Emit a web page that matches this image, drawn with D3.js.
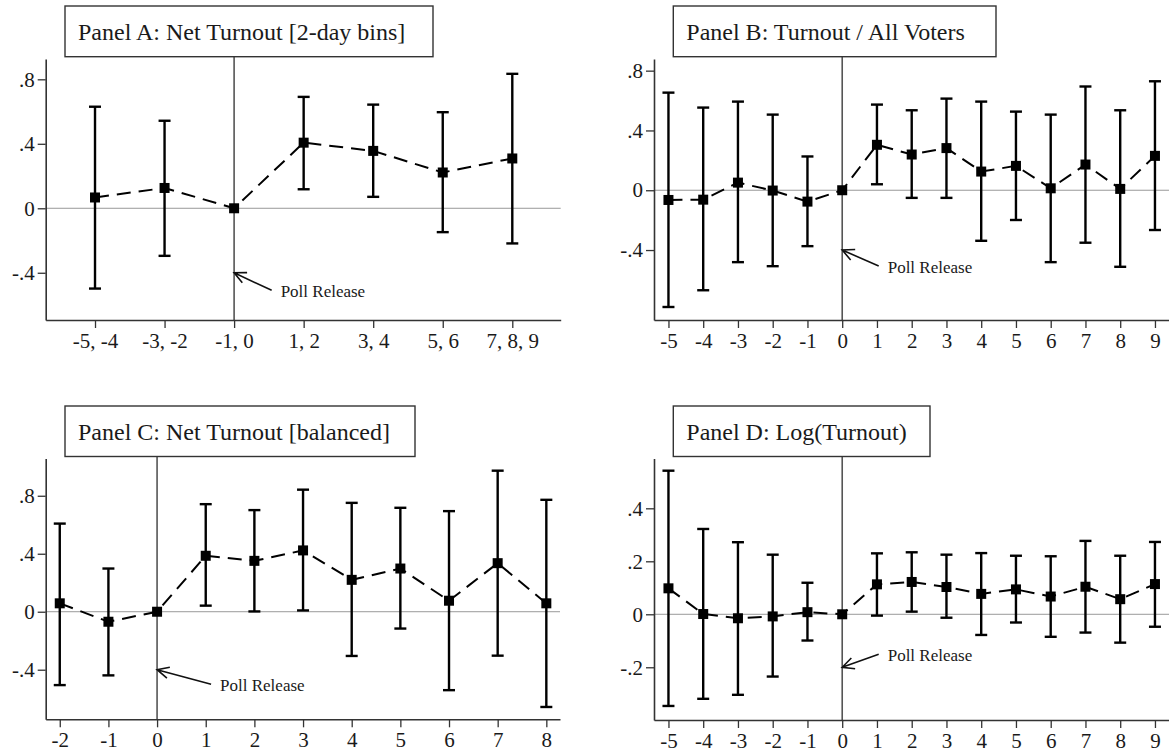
<!DOCTYPE html>
<html>
<head>
<meta charset="utf-8">
<script src="https://cdn.jsdelivr.net/npm/d3@7"></script>
<style>
  body { margin: 0; background: #fff; }
  svg { display: block; font-family: "Liberation Serif", "Times New Roman", serif; }
</style>
</head>
<body>
<div id="chart"></div>
<script>
// ---- data ----

// Panel A: 2-day bins, x is the bin index
const binsA = ["-5, -4", "-3, -2", "-1, 0", "1, 2", "3, 4", "5, 6", "7, 8, 9"];
const estA = [0.067, 0.126, 0, 0.407, 0.356, 0.222, 0.309];
const loA  = [-0.498, -0.295, null, 0.118, 0.071, -0.148, -0.218];
const hiA  = [0.630, 0.543, null, 0.691, 0.643, 0.596, 0.834];

// Panel B: turnout / all voters
const daysB = [-5, -4, -3, -2, -1, 0, 1, 2, 3, 4, 5, 6, 7, 8, 9];
const estB = [-0.065, -0.063, 0.051, -0.002, -0.076, 0, 0.304, 0.239, 0.282, 0.125, 0.163, 0.013, 0.172, 0.009, 0.230];
const loB  = [-0.781, -0.669, -0.481, -0.508, -0.374, null, 0.040, -0.051, -0.051, -0.338, -0.199, -0.481, -0.351, -0.512, -0.266];
const hiB  = [0.653, 0.553, 0.593, 0.506, 0.226, null, 0.573, 0.535, 0.613, 0.593, 0.526, 0.506, 0.694, 0.535, 0.729];

// Panel C: net turnout, balanced
const daysC = [-2, -1, 0, 1, 2, 3, 4, 5, 6, 7, 8];
const estC = [0.058, -0.069, 0, 0.386, 0.351, 0.423, 0.220, 0.298, 0.076, 0.335, 0.058];
const loC  = [-0.506, -0.439, null, 0.042, 0.002, 0.009, -0.305, -0.116, -0.541, -0.303, -0.657];
const hiC  = [0.608, 0.298, null, 0.742, 0.701, 0.842, 0.751, 0.717, 0.694, 0.973, 0.772];

// Panel D: log(turnout)
const daysD = [-5, -4, -3, -2, -1, 0, 1, 2, 3, 4, 5, 6, 7, 8, 9];
const estD = [0.098, 0.001, -0.015, -0.008, 0.008, 0, 0.113, 0.122, 0.103, 0.077, 0.094, 0.067, 0.104, 0.057, 0.114];
const loD  = [-0.346, -0.319, -0.304, -0.235, -0.099, null, -0.005, 0.010, -0.013, -0.078, -0.031, -0.085, -0.069, -0.107, -0.047];
const hiD  = [0.542, 0.322, 0.272, 0.225, 0.119, null, 0.230, 0.234, 0.225, 0.231, 0.221, 0.219, 0.277, 0.221, 0.273];

const yTicksWide = [-0.4, 0, 0.4, 0.8];
const yTicksLog = [-0.2, 0, 0.2, 0.4];

// ---- panel setup ----
const W = 1169, H = 756;

const panels = [
  {
    title: "Panel A: Net Turnout [2-day bins]",
    x: binsA.map((d, i) => i), est: estA, lo: loA, hi: hiA,
    xTicks: binsA.map((d, i) => i), xFmt: i => binsA[i],
    yTicks: yTicksWide, ref: 2,
    xr: [45.7, 560.7], xd: [-0.709, 6.696],
    yr: [320, 59], yd: [-0.693, 0.926],
    box: [65, 6, 433, 56.7],
    arrow: [2.54, -0.509]
  },
  {
    title: "Panel B: Turnout / All Voters",
    x: daysB, est: estB, lo: loB, hi: hiB,
    xTicks: daysB, xFmt: d => d,
    yTicks: yTicksWide, ref: 0,
    xr: [654, 1169], xd: [-5.416, 9.404],
    yr: [320, 59], yd: [-0.868, 0.878],
    box: [673.3, 6, 996, 56.7],
    arrow: [1.05, -0.507]
  },
  {
    title: "Panel C: Net Turnout [balanced]",
    x: daysC, est: estC, lo: loC, hi: hiC,
    xTicks: daysC, xFmt: d => d,
    yTicks: yTicksWide, ref: 0,
    xr: [45.7, 560], xd: [-2.289, 8.281],
    yr: [719.3, 458.5], yd: [-0.742, 1.057],
    box: [65, 406, 415, 456.5],
    arrow: [1.11, -0.50]
  },
  {
    title: "Panel D: Log(Turnout)",
    x: daysD, est: estD, lo: loD, hi: hiD,
    xTicks: daysD, xFmt: d => d,
    yTicks: yTicksLog, ref: 0,
    xr: [654, 1169], xd: [-5.416, 9.404],
    yr: [720, 458.5], yd: [-0.399, 0.588],
    box: [673.3, 406, 930, 456.5],
    arrow: [1.05, -0.151]
  }
];

// stata style: ".4", "-.4", "0"
function fmtY(v) {
  if (Math.abs(v) < 1e-9) return "0";
  let s = String(+Math.abs(v).toFixed(2)).replace(/^0/, "");
  return (v < 0 ? "-" : "") + s;
}

const svg = d3.select("#chart").append("svg")
  .attr("width", W).attr("height", H)
  .attr("viewBox", `0 0 ${W} ${H}`);

panels.forEach(p => drawPanel(p));

function drawPanel(p) {
  const g = svg.append("g");
  const x = d3.scaleLinear().domain(p.xd).range(p.xr);
  const y = d3.scaleLinear().domain(p.yd).range(p.yr);

  // zero line
  g.append("line")
    .attr("x1", p.xr[0]).attr("x2", p.xr[1])
    .attr("y1", y(0)).attr("y2", y(0))
    .attr("stroke", "#999").attr("stroke-width", 1);

  // poll release line
  g.append("line")
    .attr("x1", x(p.ref)).attr("x2", x(p.ref))
    .attr("y1", p.box[3]).attr("y2", p.yr[0])
    .attr("stroke", "#555").attr("stroke-width", 1.6);

  // axes
  const xAxis = d3.axisBottom(x).tickValues(p.xTicks).tickFormat(p.xFmt)
    .tickSize(8).tickSizeOuter(0).tickPadding(5);
  const gx = g.append("g").attr("transform", `translate(0,${p.yr[0]})`).call(xAxis);
  const yAxis = d3.axisLeft(y).tickValues(p.yTicks).tickFormat(fmtY)
    .tickSize(8).tickSizeOuter(0).tickPadding(3);
  const gy = g.append("g").attr("transform", `translate(${p.xr[0]},0)`).call(yAxis);
  [gx, gy].forEach(a => {
    a.select(".domain").attr("stroke", "#333").attr("stroke-width", 1.6);
    a.selectAll(".tick line").attr("stroke", "#333").attr("stroke-width", 1.3);
    a.selectAll(".tick text").attr("fill", "#1a1a1a")
      .style("font-family", "'Liberation Serif', 'Times New Roman', serif")
      .style("font-size", "21px");
  });

  const pts = p.x.map((xv, i) => ({ x: xv, est: p.est[i], lo: p.lo[i], hi: p.hi[i] }));

  // dashed connecting line
  g.append("path")
    .datum(pts)
    .attr("fill", "none")
    .attr("stroke", "#000").attr("stroke-width", 2)
    .attr("stroke-dasharray", "14,8")
    .attr("d", d3.line().x(d => x(d.x)).y(d => y(d.est)));

  // confidence intervals
  const ci = pts.filter(d => d.lo !== null);
  const cap = 6;
  const bars = g.append("g").attr("stroke", "#000").attr("stroke-width", 2.4);
  bars.selectAll("line.v").data(ci).join("line").attr("class", "v")
    .attr("x1", d => x(d.x)).attr("x2", d => x(d.x))
    .attr("y1", d => y(d.lo)).attr("y2", d => y(d.hi));
  bars.selectAll("line.t").data(ci).join("line").attr("class", "t")
    .attr("x1", d => x(d.x) - cap).attr("x2", d => x(d.x) + cap)
    .attr("y1", d => y(d.hi)).attr("y2", d => y(d.hi));
  bars.selectAll("line.b").data(ci).join("line").attr("class", "b")
    .attr("x1", d => x(d.x) - cap).attr("x2", d => x(d.x) + cap)
    .attr("y1", d => y(d.lo)).attr("y2", d => y(d.lo));

  // square markers
  const ms = 10;
  g.selectAll("rect.pt").data(pts).join("rect").attr("class", "pt")
    .attr("x", d => x(d.x) - ms / 2).attr("y", d => y(d.est) - ms / 2)
    .attr("width", ms).attr("height", ms).attr("fill", "#000");

  // poll release arrow
  const tipVal = p.yTicks[0];
  const tx = x(p.ref), ty = y(tipVal);
  const ex = x(p.arrow[0]), ey = y(p.arrow[1]);
  const ang = Math.atan2(ey - ty, ex - tx);
  const hl = 13, ha = 0.45;
  const arrowPath = `M${ex},${ey}L${tx},${ty}` +
    `M${tx + hl * Math.cos(ang - ha)},${ty + hl * Math.sin(ang - ha)}L${tx},${ty}` +
    `L${tx + hl * Math.cos(ang + ha)},${ty + hl * Math.sin(ang + ha)}`;
  g.append("path").attr("d", arrowPath)
    .attr("fill", "none").attr("stroke", "#111").attr("stroke-width", 1.6);
  g.append("text")
    .attr("x", ex + 9).attr("y", ey + 1).attr("dy", "0.35em")
    .attr("fill", "#1a1a1a").style("font-size", "17px")
    .text("Poll Release");

  // title box
  const b = p.box;
  g.append("rect")
    .attr("x", b[0]).attr("y", b[1])
    .attr("width", b[2] - b[0]).attr("height", b[3] - b[1])
    .attr("fill", "#fff").attr("stroke", "#333").attr("stroke-width", 1.4);
  g.append("text")
    .attr("x", b[0] + 13).attr("y", b[1] + 34)
    .attr("fill", "#1a1a1a").style("font-size", "24px")
    .text(p.title);
}
</script>
</body>
</html>
